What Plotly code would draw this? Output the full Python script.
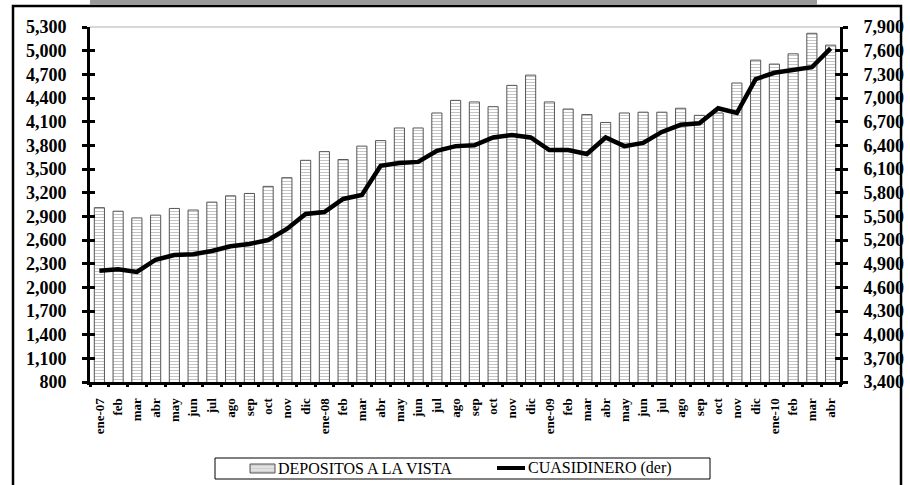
import plotly.graph_objects as go

months = ["ene-07","feb","mar","abr","may","jun","jul","ago","sep","oct","nov","dic",
          "ene-08","feb","mar","abr","may","jun","jul","ago","sep","oct","nov","dic",
          "ene-09","feb","mar","abr","may","jun","jul","ago","sep","oct","nov","dic",
          "ene-10","feb","mar","abr"]
depositos = [3010, 2965, 2880, 2915, 3000, 2980, 3080, 3160, 3190, 3280, 3390, 3610,
             3720, 3620, 3790, 3860, 4020, 4020, 4210, 4370, 4350, 4290, 4560, 4690,
             4350, 4260, 4190, 4090, 4210, 4220, 4220, 4270, 4180, 4210, 4590, 4880,
             4830, 4960, 5220, 5070]
cuasidinero = [4810, 4830, 4795, 4950, 5010, 5020, 5060, 5120, 5150, 5200, 5340, 5530,
               5555, 5720, 5770, 6140, 6175, 6190, 6330, 6390, 6400, 6500, 6530, 6500,
               6340, 6340, 6290, 6500, 6390, 6430, 6570, 6660, 6680, 6870, 6810, 7240,
               7320, 7350, 7390, 7630]
left_ticks = list(range(800, 5301, 300))
right_ticks = list(range(3400, 7901, 300))
series_names = ["DEPOSITOS A LA VISTA", "CUASIDINERO (der)"]

x = list(range(len(months)))

W, H = 910, 485
L, R, T, B = 90, 840, 27, 382
SERIF = "Liberation Serif"

def px(xp):
    return (xp - L) / (R - L)

def py(yp):
    return (B - yp) / (B - T)

fig = go.Figure()
fig.add_trace(go.Bar(
    x=x, y=depositos, name=series_names[0], width=0.54, showlegend=False,
    marker=dict(color="white", line=dict(color="#555555", width=1),
                pattern=dict(shape="-", fgcolor="#8a8a8a", bgcolor="white", size=3, solidity=0.35)),
))
fig.add_trace(go.Scatter(
    x=x, y=cuasidinero, name=series_names[1], yaxis="y2", mode="lines", showlegend=False,
    line=dict(color="black", width=4.5),
))
fig.add_trace(go.Scatter(x=x, y=depositos, xaxis="x2", yaxis="y3", mode="none",
                         showlegend=False, hoverinfo="skip"))
fig.add_trace(go.Scatter(x=x, y=cuasidinero, yaxis="y4", mode="none",
                         showlegend=False, hoverinfo="skip"))

tickfont = dict(family=SERIF, size=18, color="black", weight="bold")

shapes = [
    dict(type="rect", xref="paper", yref="paper", x0=px(13), x1=px(901), y0=py(487), y1=py(6),
         line=dict(color="black", width=2.5), fillcolor="rgba(0,0,0,0)", layer="below"),
    dict(type="rect", xref="paper", yref="paper", x0=px(90), x1=px(817), y0=py(5), y1=py(-2),
         line=dict(width=0), fillcolor="#9a9a9a"),
    dict(type="line", xref="paper", yref="paper", x0=0, x1=1, y0=1, y1=1,
         line=dict(color="#b0b0b0", width=1)),
    dict(type="rect", xref="paper", yref="paper", x0=px(215), x1=px(710), y0=py(479), y1=py(458),
         line=dict(color="black", width=1), fillcolor="white"),
    dict(type="rect", xref="paper", yref="paper", x0=px(250), x1=px(275), y0=py(473), y1=py(464),
         line=dict(color="#555555", width=1), fillcolor="#d0d0d0"),
    dict(type="line", xref="paper", yref="paper", x0=px(251), x1=px(274), y0=py(467), y1=py(467),
         line=dict(color="#f4f4f4", width=1)),
    dict(type="line", xref="paper", yref="paper", x0=px(251), x1=px(274), y0=py(470), y1=py(470),
         line=dict(color="#f4f4f4", width=1)),
    dict(type="line", xref="paper", yref="paper", x0=px(497), x1=px(525), y0=py(468), y1=py(468),
         line=dict(color="black", width=4)),
]
annotations = [
    dict(xref="paper", yref="paper", x=px(276), y=py(468.5), xanchor="left", yanchor="middle",
         text=series_names[0], showarrow=False,
         font=dict(family=SERIF, size=16, color="black")),
    dict(xref="paper", yref="paper", x=px(526), y=py(468.5), xanchor="left", yanchor="middle",
         text=series_names[1], showarrow=False,
         font=dict(family=SERIF, size=16, color="black")),
]

fig.update_layout(
    width=W, height=H,
    margin=dict(l=L, r=W - R, t=T, b=H - B, autoexpand=False),
    plot_bgcolor="white", paper_bgcolor="white",
    font=dict(family=SERIF, color="black"),
    showlegend=False,
    xaxis=dict(
        type="linear", range=[-0.5, len(months) - 0.5],
        tickmode="array", tickvals=x, ticktext=months, tickangle=-90,
        tickfont=dict(family=SERIF, size=13, color="black", weight="bold"),
        showline=True, linecolor="black", linewidth=3,
        ticks="outside", ticklen=5, tickcolor="rgba(0,0,0,0)", ticklabelstandoff=3,
        showgrid=False, zeroline=False, automargin=False,
    ),
    xaxis2=dict(
        overlaying="x", matches="x", range=[-0.5, len(months) - 0.5], side="bottom",
        tickmode="array", tickvals=[i - 0.5 for i in range(len(months) + 1)],
        ticks="outside", ticklen=4, tickwidth=3, tickcolor="black",
        showticklabels=False, showline=False, showgrid=False, zeroline=False,
    ),
    yaxis=dict(
        range=[800, 5300], tickmode="array", tickvals=left_ticks, tickformat=",",
        tickfont=tickfont, showline=True, linecolor="black", linewidth=3,
        ticks="outside", ticklen=5, tickwidth=3, tickcolor="black",
        showgrid=False, zeroline=False, automargin=False, ticklabelstandoff=12,
    ),
    yaxis3=dict(
        overlaying="y", matches="y", side="left", range=[800, 5300],
        tickmode="array", tickvals=left_ticks, ticks="inside", ticklen=5, tickwidth=3,
        tickcolor="black", showticklabels=False, showline=False, showgrid=False, zeroline=False,
    ),
    yaxis2=dict(
        overlaying="y", side="right", range=[3400, 7900], tickmode="array",
        tickvals=right_ticks, tickformat=",", tickfont=tickfont,
        showline=True, linecolor="black", linewidth=3,
        ticks="outside", ticklen=5, tickwidth=3, tickcolor="black",
        showgrid=False, zeroline=False, automargin=False, ticklabelstandoff=12,
    ),
    yaxis4=dict(
        overlaying="y", side="right", range=[3400, 7900], tickmode="array",
        tickvals=right_ticks, ticks="inside", ticklen=5, tickwidth=3, tickcolor="black",
        showticklabels=False, showline=False, showgrid=False, zeroline=False,
    ),
    shapes=shapes,
    annotations=annotations,
)

fig.write_html("out.html", config={"displayModeBar": False},
               post_script="document.body.style.margin='0';document.body.style.overflow='hidden';")
